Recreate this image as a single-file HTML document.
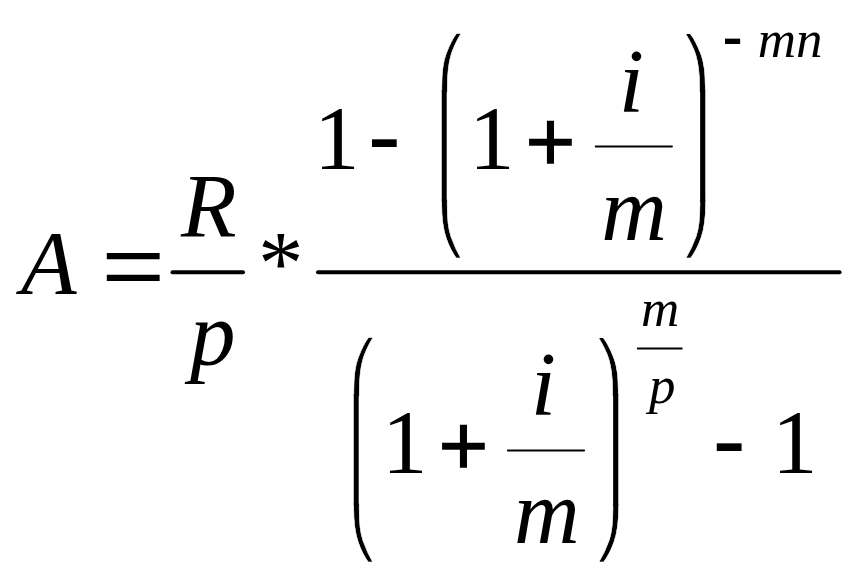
<!DOCTYPE html>
<html><head><meta charset="utf-8"><title>Formula</title>
<style>html,body{margin:0;padding:0;background:#fff}svg{display:block}text{fill:#000}
.it{font-family:"Liberation Serif",serif;font-style:italic}
.rm{font-family:"Liberation Serif",serif}
.ls{font-family:"Liberation Sans",sans-serif}
.dv{font-family:"DejaVu Sans",sans-serif}
</style></head>
<body><svg width="860" height="581" viewBox="0 0 860 581">
<rect width="860" height="581" fill="#fff"/>
<g style="will-change:opacity">
<text class="it" x="21.00" y="294" font-size="91">A</text>
<text class="ls" transform="matrix(1.0876 0 0 0.8682 101.46 295.54)" font-size="100">=</text>
<text class="it" x="181.00" y="237" font-size="91">R</text>
<line x1="172.50" x2="243.00" y1="272.35" y2="272.35" stroke="#000" stroke-width="4" stroke-linecap="round"/>
<text class="it" x="190.10" y="365" font-size="91">p</text>
<text class="rm" x="258.10" y="294" font-size="91">*</text>
<line x1="318.00" x2="839.60" y1="272.35" y2="272.35" stroke="#000" stroke-width="4" stroke-linecap="round"/>
<text class="rm" x="313.90" y="169" font-size="91">1</text>
<text class="ls" transform="matrix(1.0124 0 0 0.9750 367.44 169.14)" font-size="100">-</text>
<g><text class="dv" transform="matrix(0.5771 0 0 0.4875 436.64 79.94)" font-size="100" stroke="#fff" stroke-width="0.5" stroke-linejoin="miter" vector-effect="non-scaling-stroke">⎛</text><text class="dv" transform="matrix(0.5771 0 0 0.4947 436.64 246.18)" font-size="100" stroke="#fff" stroke-width="0.5" stroke-linejoin="miter" vector-effect="non-scaling-stroke">⎝</text><text class="dv" transform="matrix(0.5245 0 0 0.9356 437.34 178.18)" font-size="100">⎜</text></g>
<text class="rm" x="469.00" y="169" font-size="91">1</text>
<text class="dv" transform="matrix(0.6553 0 0 0.6555 523.07 163.35)" font-size="100" stroke="#000" stroke-width="1.7" stroke-linejoin="miter" vector-effect="non-scaling-stroke">+</text>
<text class="it" x="618.75" y="112" font-size="91">i</text>
<line x1="595.60" x2="672.00" y1="146.50" y2="146.50" stroke="#000" stroke-width="1.8" stroke-linecap="round"/>
<text class="it" x="601.30" y="240" font-size="91">m</text>
<g><text class="dv" transform="matrix(0.5954 0 0 0.4875 680.84 79.94)" font-size="100" stroke="#fff" stroke-width="0.5" stroke-linejoin="miter" vector-effect="non-scaling-stroke">⎞</text><text class="dv" transform="matrix(0.5954 0 0 0.4947 680.84 246.18)" font-size="100" stroke="#fff" stroke-width="0.5" stroke-linejoin="miter" vector-effect="non-scaling-stroke">⎠</text><text class="dv" transform="matrix(0.5428 0 0 0.9356 682.77 178.18)" font-size="100">⎟</text></g>
<text class="ls" transform="matrix(0.6198 0 0 0.6875 722.21 59.72)" font-size="100">-</text>
<text class="it" x="757.80" y="57" font-size="53">mn</text>
<g><text class="dv" transform="matrix(0.5771 0 0 0.4875 348.64 383.94)" font-size="100" stroke="#fff" stroke-width="0.5" stroke-linejoin="miter" vector-effect="non-scaling-stroke">⎛</text><text class="dv" transform="matrix(0.5771 0 0 0.4947 348.64 550.18)" font-size="100" stroke="#fff" stroke-width="0.5" stroke-linejoin="miter" vector-effect="non-scaling-stroke">⎝</text><text class="dv" transform="matrix(0.5245 0 0 0.9356 349.34 482.18)" font-size="100">⎜</text></g>
<text class="rm" x="382.00" y="473" font-size="91">1</text>
<text class="dv" transform="matrix(0.6553 0 0 0.6555 436.07 467.35)" font-size="100" stroke="#000" stroke-width="1.7" stroke-linejoin="miter" vector-effect="non-scaling-stroke">+</text>
<text class="it" x="530.85" y="415" font-size="91">i</text>
<line x1="507.80" x2="584.20" y1="450.50" y2="450.50" stroke="#000" stroke-width="1.8" stroke-linecap="round"/>
<text class="it" x="514.00" y="543" font-size="91">m</text>
<g><text class="dv" transform="matrix(0.5954 0 0 0.4875 593.84 383.94)" font-size="100" stroke="#fff" stroke-width="0.5" stroke-linejoin="miter" vector-effect="non-scaling-stroke">⎞</text><text class="dv" transform="matrix(0.5954 0 0 0.4947 593.84 550.18)" font-size="100" stroke="#fff" stroke-width="0.5" stroke-linejoin="miter" vector-effect="non-scaling-stroke">⎠</text><text class="dv" transform="matrix(0.5428 0 0 0.9356 595.77 482.18)" font-size="100">⎟</text></g>
<text class="it" x="641.05" y="326" font-size="53">m</text>
<line x1="637.80" x2="681.70" y1="348.45" y2="348.45" stroke="#000" stroke-width="2" stroke-linecap="round"/>
<text class="it" x="649.10" y="403" font-size="53">p</text>
<text class="ls" transform="matrix(1.0165 0 0 0.9750 712.33 472.74)" font-size="100">-</text>
<text class="rm" x="772.10" y="473" font-size="91">1</text>
</g>
</svg></body></html>
